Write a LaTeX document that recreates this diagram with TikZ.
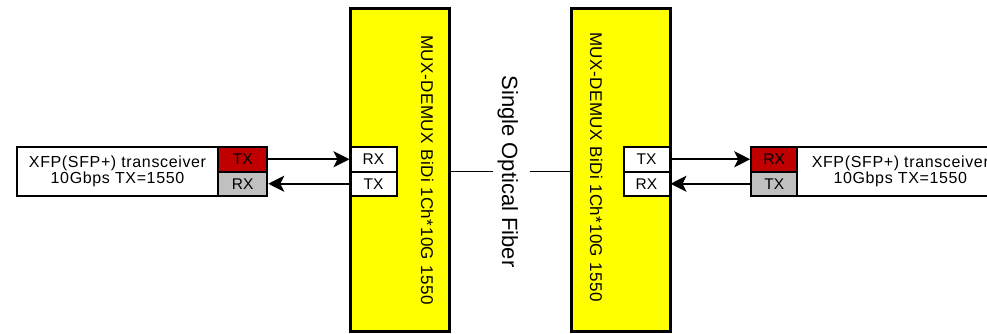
\documentclass[tikz,border=0pt]{standalone}
\usepackage{fontspec}
\setmainfont{Liberation Sans}
\newfontfamily\trfont[LetterSpace=4]{Liberation Sans}
\newfontfamily\muxfont[LetterSpace=3]{Liberation Sans}
\usetikzlibrary{arrows.meta}
\definecolor{portred}{HTML}{C00000}
\definecolor{portgray}{HTML}{C0C0C0}
\definecolor{muxyellow}{HTML}{FFFF00}
\begin{document}
\begin{tikzpicture}[x=1pt,y=-1pt,
  trbox/.style={draw, line width=2pt, fill=white, minimum width=201pt, minimum height=49pt, inner sep=0pt, font=\trfont\fontsize{16}{16}\selectfont, align=center},
  port/.style={draw, line width=2pt, fill=white, minimum height=24.5pt, inner sep=0pt, font=\fontsize{15.5}{18}\selectfont},
  muxbox/.style={draw, line width=3pt, fill=muxyellow, minimum width=99pt, minimum height=323pt, inner sep=0pt},
  muxlabel/.style={rotate=-90, anchor=base, inner sep=0pt, font=\muxfont\fontsize{17}{20}\selectfont},
  sig/.style={line width=2pt, -{Stealth[length=16pt,width=16pt,inset=4pt]}},
  fiberline/.style={line width=1.8pt}]
\useasboundingbox (0,0) rectangle (987,334);
\clip (0,0) rectangle (987,334);

% MUX boxes
\node[muxbox] (lmux) at (399.5,170) {};
\node[muxbox] (rmux) at (621,170) {};
\node[muxlabel] (lmuxt) at (421,170) {MUX-DEMUX BiDi 1Ch*10G 1550};
\node[muxlabel] (rmuxt) at (590,167) {MUX-DEMUX BiDi 1Ch*10G 1550};

% MUX ports
\node[port, minimum width=46pt] (lmrx) at (373.5,159.25) {RX};
\node[port, minimum width=46pt] (lmtx) at (373.5,183.75) {TX};
\node[port, minimum width=46pt] (rmtx) at (646.5,159.25) {TX};
\node[port, minimum width=46pt] (rmrx) at (646.5,183.75) {RX};

% left transceiver
\node[trbox] (lt) at (117.5,171) {XFP(SFP+) transceiver\\10Gbps TX=1550};
\node[port, minimum width=49pt, fill=portred] (ltx) at (242.75,159.25) {TX};
\node[port, minimum width=49pt, fill=portgray] (lrx) at (242.75,183.75) {RX};

% right transceiver
\node[trbox, minimum width=206pt] (rt) at (900.3,171) {XFP(SFP+) transceiver\\10Gbps TX=1550};
\node[port, minimum width=46pt, fill=portred] (rrx) at (774.2,159.25) {RX};
\node[port, minimum width=46pt, fill=portgray] (rtx) at (774.2,183.75) {TX};

% fiber
\node[rotate=-90, anchor=base, inner sep=0pt, text height=28pt, text depth=9.3pt,
  font=\fontsize{22}{26}\selectfont] (fib) at (502,171.5) {Single Optical Fiber};
\draw[fiberline] (fib.south) -- (fib.south -| lmux.east);
\draw[fiberline] (fib.north) -- (fib.north -| rmux.west);

% signals
\draw[sig] (ltx.east) -- (lmrx.west);
\draw[sig] (lmtx.west) -- (lrx.east);
\draw[sig] (rmtx.east) -- (rrx.west);
\draw[sig] (rtx.west) -- (rmrx.east);
\end{tikzpicture}
\end{document}
